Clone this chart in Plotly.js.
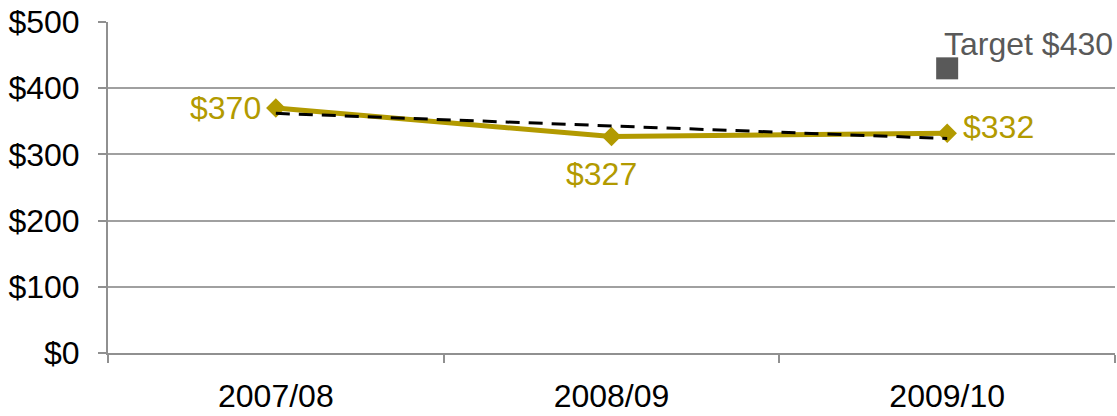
<!DOCTYPE html>
<html>
<head>
<meta charset="utf-8">
<script src="https://cdn.plot.ly/plotly-3.0.1.min.js"></script>
<style>html,body{margin:0;padding:0;background:#fff;}#chart{width:1117px;height:416px;}</style>
</head>
<body>
<div id="chart"></div>
<script>
const categories = ["2007/08", "2008/09", "2009/10"];
const actualValues = [370, 327, 332];
const trendValues = [362, 343, 324];
const targetCategory = ["2009/10"];
const targetValues = [430];
const yTickValues = [0, 100, 200, 300, 400, 500];

const gold = "#B29A00";
const grey = "#595959";
const font = "Liberation Sans, Arial, sans-serif";
const fs = 32;

// label placement per point: anchor and pixel offsets (style only)
const labelStyle = [
  {xanchor: "right", xshift: -13, yshift: 0},
  {xanchor: "center", xshift: -10, yshift: -37},
  {xanchor: "left", xshift: 14, yshift: 6}
];

const traces = [
  {
    x: categories, y: actualValues, type: "scatter", mode: "lines+markers",
    line: {color: gold, width: 5},
    marker: {symbol: "diamond", size: 15, color: gold},
    hoverinfo: "skip"
  },
  {
    x: categories, y: trendValues, type: "scatter", mode: "lines",
    line: {color: "#000000", width: 3, dash: "14px,9px"},
    hoverinfo: "skip"
  },
  {
    x: targetCategory, y: targetValues, type: "scatter", mode: "markers",
    marker: {symbol: "square", size: 22, color: grey},
    cliponaxis: false, hoverinfo: "skip"
  }
];

const annotations = actualValues.map((v, i) => ({
  x: categories[i], y: v, xref: "x", yref: "y",
  text: "$" + v, showarrow: false,
  xanchor: labelStyle[i].xanchor, yanchor: "middle",
  xshift: labelStyle[i].xshift, yshift: labelStyle[i].yshift,
  font: {family: font, size: fs, color: gold}
}));
targetValues.forEach((v, i) => annotations.push({
  x: targetCategory[i], y: v, xref: "x", yref: "y",
  text: "Target $" + v, showarrow: false,
  xanchor: "left", yanchor: "middle", xshift: -5, yshift: 24,
  font: {family: font, size: fs, color: grey}
}));

const layout = {
  width: 1117, height: 416,
  margin: {l: 108, r: 2, t: 22, b: 63, pad: 0},
  showlegend: false,
  paper_bgcolor: "#fff", plot_bgcolor: "#fff",
  font: {family: font, size: fs, color: "#000"},
  annotations: annotations,
  xaxis: {
    type: "category", range: [-0.5, 2.5],
    tickson: "boundaries", ticks: "outside", ticklen: 8, tickcolor: "#909090", tickwidth: 2,
    showline: true, linecolor: "#909090", linewidth: 2,
    showgrid: false, zeroline: false, ticklabelstandoff: 14,
    tickfont: {family: font, size: fs, color: "#000"}
  },
  yaxis: {
    range: [0, 500], tickvals: yTickValues,
    ticktext: yTickValues.map(v => "$" + v),
    ticks: "outside", ticklen: 8, tickcolor: "#909090", tickwidth: 2,
    showline: true, linecolor: "#909090", linewidth: 2,
    showgrid: true, gridcolor: "#A0A0A0", gridwidth: 2, zeroline: false,
    ticklabelstandoff: 12,
    tickfont: {family: font, size: fs, color: "#000"}
  }
};

Plotly.newPlot("chart", traces, layout, {staticPlot: true, displayModeBar: false});
</script>
</body>
</html>
